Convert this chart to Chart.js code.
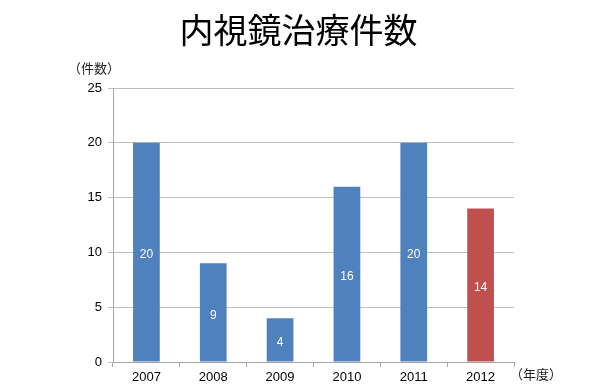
<!DOCTYPE html>
<html><head><meta charset="utf-8">
<script src="https://cdn.jsdelivr.net/npm/chart.js@4/dist/chart.umd.min.js"></script>
<style>
html,body{margin:0;padding:0;background:#fff;}
#wrap{position:relative;width:610px;height:390px;}
.lbl{position:absolute;font-family:"Noto Sans CJK JP",sans-serif;font-size:13px;color:#222;white-space:nowrap;line-height:1;}
.ttl{position:absolute;left:0;width:597px;top:9px;text-align:center;font-family:"Noto Sans CJK JP",sans-serif;font-size:34px;color:#000;line-height:1.2;}
</style></head>
<body><div id="wrap"><canvas id="c" width="610" height="390"></canvas>
<div class="ttl" id="ttl"></div>
<div class="lbl" style="left:68px;top:61px;">（件数）</div>
<div class="lbl" style="left:510px;top:367px;">（年度）</div>
</div>
<script>
const titleText = "内視鏡治療件数";
const categories = ["2007","2008","2009","2010","2011","2012"];
const values = [20, 9, 4, 16, 20, 14];
const barColors = ["#4F81BD","#4F81BD","#4F81BD","#4F81BD","#4F81BD","#C0504D"];
const yTicks = [0, 5, 10, 15, 20, 25];
document.getElementById('ttl').textContent = titleText;

const labelPlugin = {
  id: 'barLabels',
  afterDatasetsDraw(chart) {
    const ctx = chart.ctx;
    const meta = chart.getDatasetMeta(0);
    ctx.save();
    ctx.fillStyle = '#fff';
    ctx.font = '12px "Liberation Sans", Arial, sans-serif';
    ctx.textAlign = 'center';
    ctx.textBaseline = 'middle';
    meta.data.forEach((bar, i) => {
      const y = (bar.y + bar.base) / 2;
      ctx.fillText(String(chart.data.datasets[0].data[i]), bar.x, y + 3);
    });
    ctx.restore();
  }
};

new Chart(document.getElementById('c'), {
  type: 'bar',
  data: {
    labels: categories,
    datasets: [{ data: values, backgroundColor: barColors, categoryPercentage: 1.0, barPercentage: 0.4 }]
  },
  options: {
    responsive: false,
    animation: false,
    layout: { padding: { left: 0, right: 96, top: 88, bottom: 0 } },
    plugins: {
      legend: { display: false },
      tooltip: { enabled: false },
      title: { display: false }
    },
    scales: {
      x: {
        offset: true,
        afterFit(s) { s.height = 28; },
        grid: { display: true, drawOnChartArea: false, offset: true, tickLength: 5, color: '#A6A6A6' },
        border: { color: '#A6A6A6' },
        ticks: { color: '#000', padding: 3, font: { family: '"Liberation Sans", Arial, sans-serif', size: 13 } }
      },
      y: {
        min: 0, max: 25,
        afterFit(s) { s.width = 113; },
        afterBuildTicks(s) { s.ticks = yTicks.map(v => ({ value: v })); },
        grid: { color: '#BFBFBF', tickLength: 5 },
        border: { color: '#A6A6A6' },
        ticks: { color: '#000', padding: 6, font: { family: '"Liberation Sans", Arial, sans-serif', size: 13 } }
      }
    }
  },
  plugins: [labelPlugin]
});
</script></body></html>
